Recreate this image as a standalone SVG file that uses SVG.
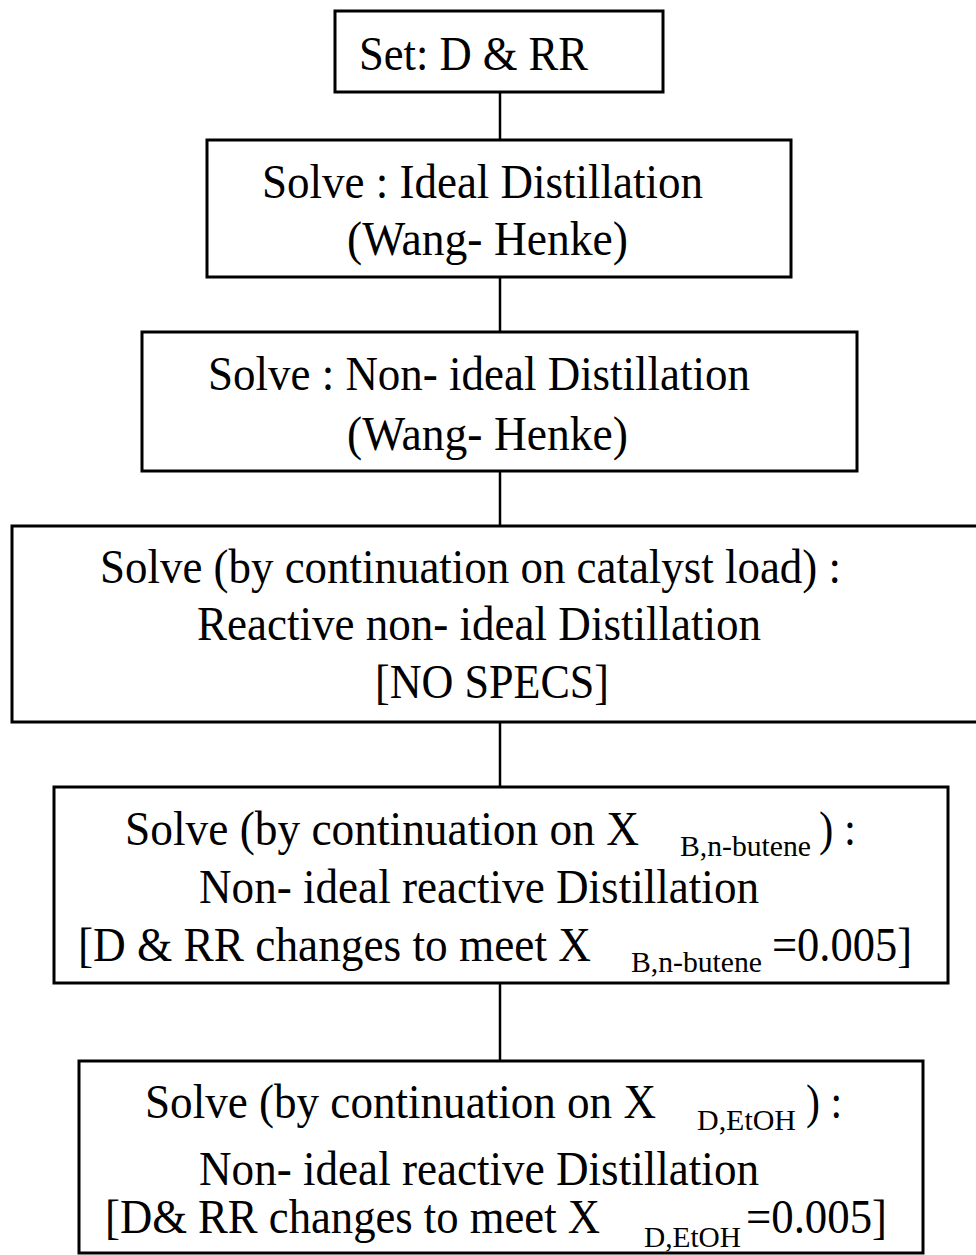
<svg xmlns="http://www.w3.org/2000/svg" width="976" height="1255" viewBox="0 0 976 1255">
<style>
.box{fill:#fff;stroke:#000;stroke-width:3}
.t{font-family:"Liberation Serif","Times New Roman",serif;font-size:48px;fill:#000}
.s{font-family:"Liberation Serif","Times New Roman",serif;font-size:30px;fill:#000}
.c{stroke:#000;stroke-width:2.5;fill:none}
</style>
<rect width="976" height="1255" fill="#fff"/>
<g id="connectors">
<line class="c" x1="500" y1="92" x2="500" y2="140"/>
<line class="c" x1="500" y1="277" x2="500" y2="332"/>
<line class="c" x1="500" y1="471" x2="500" y2="526"/>
<line class="c" x1="500" y1="722" x2="500" y2="787"/>
<line class="c" x1="500" y1="983" x2="500" y2="1061"/>
</g>
<g id="node1">
<rect class="box" x="335" y="11" width="328" height="81"/>
<text class="t" x="359" y="70" textLength="229" lengthAdjust="spacingAndGlyphs">Set: D &amp; RR</text>
</g>
<g id="node2">
<rect class="box" x="207" y="140" width="584" height="137"/>
<text class="t" x="262" y="198" textLength="441" lengthAdjust="spacingAndGlyphs">Solve : Ideal Distillation</text>
<text class="t" x="347" y="255" textLength="281" lengthAdjust="spacingAndGlyphs">(Wang- Henke)</text>
</g>
<g id="node3">
<rect class="box" x="142" y="332" width="715" height="139"/>
<text class="t" x="208" y="390" textLength="542" lengthAdjust="spacingAndGlyphs">Solve : Non- ideal Distillation</text>
<text class="t" x="347" y="450" textLength="281" lengthAdjust="spacingAndGlyphs">(Wang- Henke)</text>
</g>
<g id="node4">
<rect class="box" x="12" y="526" width="970" height="196"/>
<text class="t" x="100" y="583" textLength="741" lengthAdjust="spacingAndGlyphs">Solve (by continuation on catalyst load) :</text>
<text class="t" x="197" y="640" textLength="564" lengthAdjust="spacingAndGlyphs">Reactive non- ideal Distillation</text>
<text class="t" x="375" y="698" textLength="234" lengthAdjust="spacingAndGlyphs">[NO SPECS]</text>
</g>
<g id="node5">
<rect class="box" x="54" y="787" width="894" height="196"/>
<text class="t" x="125" y="845" textLength="514" lengthAdjust="spacingAndGlyphs">Solve (by continuation on X</text>
<text class="s" x="680" y="856" textLength="131" lengthAdjust="spacingAndGlyphs">B,n-butene</text>
<text class="t" x="819" y="845" textLength="37" lengthAdjust="spacingAndGlyphs">) :</text>
<text class="t" x="199" y="903" textLength="560" lengthAdjust="spacingAndGlyphs">Non- ideal reactive Distillation</text>
<text class="t" x="78" y="961" textLength="513" lengthAdjust="spacingAndGlyphs">[D &amp; RR changes to meet X</text>
<text class="s" x="631" y="972" textLength="131" lengthAdjust="spacingAndGlyphs">B,n-butene</text>
<text class="t" x="772" y="961" textLength="140" lengthAdjust="spacingAndGlyphs">=0.005]</text>
</g>
<g id="node6">
<rect class="box" x="79" y="1061" width="844" height="192"/>
<text class="t" x="145" y="1118" textLength="511" lengthAdjust="spacingAndGlyphs">Solve (by continuation on X</text>
<text class="s" x="697" y="1130" textLength="99" lengthAdjust="spacingAndGlyphs">D,EtOH</text>
<text class="t" x="806" y="1118" textLength="36" lengthAdjust="spacingAndGlyphs">) :</text>
<text class="t" x="199" y="1185" textLength="560" lengthAdjust="spacingAndGlyphs">Non- ideal reactive Distillation</text>
<text class="t" x="105" y="1233" textLength="495" lengthAdjust="spacingAndGlyphs">[D&amp; RR changes to meet X</text>
<text class="s" x="644" y="1247" textLength="97" lengthAdjust="spacingAndGlyphs">D,EtOH</text>
<text class="t" x="746" y="1233" textLength="141" lengthAdjust="spacingAndGlyphs">=0.005]</text>
</g>
</svg>
